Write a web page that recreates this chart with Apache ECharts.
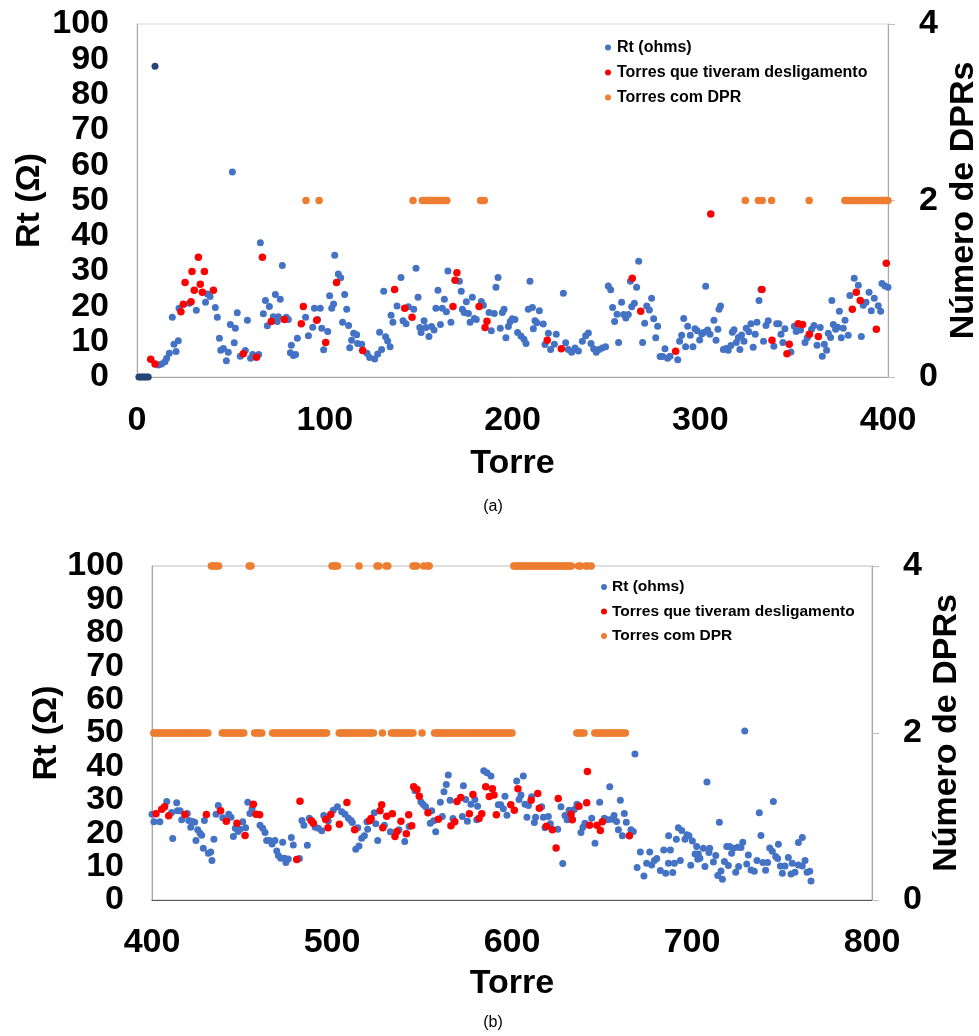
<!DOCTYPE html>
<html><head><meta charset="utf-8">
<script src="https://cdn.jsdelivr.net/npm/echarts@6/dist/echarts.min.js"></script>
<style>html,body{margin:0;padding:0;background:#fff}#c{width:979px;height:1036px}</style>
</head><body><div id="c"></div><script>
// ---------- DATA (a): towers 0-400 ----------
const rtDarkA = [[1,0],[2,0],[3,0],[4,0],[5,0],[6,0],[9.6,88]];
const rtA = [[11.4,3.4],[13.1,3.7],[14.9,4.3],[15.8,5.3],[17.2,6.7],[18.8,16.9],[19.7,9.3],[20.8,7.2],[22,10.3],[22.4,19.5],[27.9,20.9],[31.6,18.9],[36.5,21.2],[37.5,23.5],[38.9,22.8],[41.7,19.7],[42.8,16.9],[43.9,11],[44.6,7.6],[46,8.1],[47.6,4.6],[48.6,7],[49.7,14.9],[50.8,58.1],[51.8,9.7],[52.4,13.8],[53.4,18.2],[55,5.9],[57.7,7.5],[58.8,16.1],[60.5,5.3],[61.6,6.4],[64.8,6.4],[65.7,38],[67.3,17.9],[68.4,21.7],[69.4,14.5],[70.5,20],[72.6,17.1],[73.7,23.4],[74.7,15.7],[75.3,17.1],[76.3,22],[77.4,31.6],[79.5,16.9],[80.6,16.3],[81.7,6.9],[82.2,9],[83.3,6.1],[84.5,6.4],[85.4,11],[89.8,16.9],[91.3,11.7],[93.6,14.1],[94.5,19.5],[96.2,16.3],[97.6,19.5],[98.4,13.8],[99.4,7.7],
[101.6,12.9],[102.6,23.0],[103.7,19.5],[104.7,20.7],[105.3,34.5],[107.2,29.2],[108.5,28.1],[109.5,15.5],[110.6,23.4],[111.7,19.2],[112.7,14.6],[113.3,8.3],[114.3,10.4],[115.4,12.4],[117,12],[117.5,9.5],[119.7,9.3],[122.5,6.7],[123.9,5.5],[126.6,5.1],[128.2,6.5],[129.2,12.7],[130.3,7.8],[131.4,24.3],[132.4,11.4],[133.5,10.2],[134.8,8.6],[135.3,17.5],[136.3,15.5],[138.5,20.1],[140.6,28.2],[141.7,15.9],[143.3,15.1],[144.5,19.9],[147.4,19.2],[148.6,30.8],[149.7,22.6],[150.6,14.0],[151.3,12.6],[152.9,15.9],[153.9,14.0],[155.5,11.5],[156.9,14.3],[158.2,13.3],[159.2,19.5],[160.3,24.6],[161.6,14.9],[162.6,19.5],[163.7,22.0],[164.8,18.5],[165.6,30.0],[167.2,15.5],[171.7,27.1],[172.7,24.3],[173.3,19.2],[174.3,18.3],[175.4,21.3],[176.5,18.0],[177.4,15.5],[178.6,22.6],[179.7,16.6],[180.7,16.3],[183.4,21.4],[184.5,20.3],[187.5,18.3],[188.7,13.1],[190.3,18.0],[191.2,25.4],[192.3,28.2],[193.5,13.8],[194.6,18.3],[195.5,19.2],[196.5,11.1],[197.8,14.3],[198.8,15.7],[199.9,16.5],
[201.3,16.3],[202.7,12.6],[204.5,11.6],[206.1,10.7],[207.2,9.5],[208.4,19.2],[209.3,27.1],[210.6,19.7],[211.1,13.7],[212,15.9],[213,15.4],[214.3,18.8],[216.4,15.0],[217.3,9.2],[219.1,12.4],[220.3,7.8],[222.3,9.3],[223.3,12.1],[227.1,23.7],[228.3,9.7],[229.7,7.8],[231.5,7.0],[233.3,8.2],[235.1,7.4],[237.2,10.1],[239,11.7],[240.4,12.5],[241.8,9.5],[243.2,8.0],[244.6,7.0],[246.1,7.8],[247.8,8.2],[249.6,8.6],[251,25.8],[252.3,24.7],[253.3,19.7],[254.4,15.7],[255.7,17.8],[256.5,9.8],[258.1,21.2],[259.2,17.7],[260.4,16.7],[261.7,17.7],[262.8,27.1],[263.5,19.9],[264.9,20.9],[266.1,25.4],[267.2,32.8],[269.3,9.8],[270.4,15.2],[271.5,20.1],[272.9,19.0],[274.1,22.3],[275.2,16.5],[276.3,11.1],[277.3,14.4],[278.6,5.8],[280,5.8],[281.2,8.0],[282.6,5.3],[283.9,5.9],[288,4.9],[289,10.1],[290.1,11.8],[291.2,16.6],[292.2,8.6],[293.3,14.4],[294.7,11.8],[296.1,8.6],[297.2,13.7],[298.4,13.1],[299.7,10.5],[300.8,12.2],[301.8,12.6],[302.9,25.7],
[303.9,13.3],[305.2,12.1],[307.3,16.1],[308.4,10.4],[309.4,13.5],[310,19.2],[310.8,20.1],[312.3,7.8],[313.7,8.1],[314.9,7.6],[316.3,8.9],[317.1,12.7],[318,13.4],[319.2,9.8],[320.3,11.2],[321.1,7.8],[322,11.9],[323.3,10.1],[324.5,13.8],[325.9,12.8],[327,15.1],[328.2,8.4],[329.3,12.1],[330.2,15.5],[331.3,21.7],[332.3,24.8],[333.7,10.1],[335,14.6],[336.2,15.9],[339.2,8.7],[340.7,15.1],[341.9,15.1],[343,12.1],[344,9.8],[345.1,13.7],[348.3,7.1],[350.1,14.4],[351.1,12.9],[353.4,13.3],[355.8,9.8],[357,11.1],[359.3,13.5],[360.6,14.6],[362.2,9.0],[363.9,14.0],[365,5.9],[366.1,9.3],[367.3,7.6],[368.2,12.4],[369.4,11.2],[370.1,21.7],[370.9,14.9],[372.1,13.5],[373.2,14.1],[374.1,18.6],[375.1,11.1],[376.2,13.8],[377.1,16.1],[378.8,11.8],[379.7,23.1],[382,28.0],[384.2,26.0],[385.8,11.5],[386.8,20.3],[388.3,21.2],[389.9,24.0],[391.1,18.8],[392.7,22.3],[394.8,20.2],[396.1,18.6],[396.8,26.5],[398.4,25.8],[400,25.4]];
const tripA = [[7.3,5.0],[9.6,3.7],[23.4,18.5],[24.7,20.6],[25.6,26.8],[28.8,21.3],[29.3,29.9],[30.5,24.6],[32.7,33.9],[33.7,26.3],[34.8,24.0],[35.9,29.9],[40.7,24.6],[56.6,6.6],[63.6,5.6],[66.8,33.9],[71.5,15.7],[78.5,16.3],[87.5,15.1],[88.6,20.0],[95.7,16.1],[100.5,9.8],[106.3,26.8],[120.2,7.5],[137.2,24.8],[142.6,19.5],[146.5,16.9],[168.3,20.0],[169.4,27.4],[170.4,29.5],[182.2,20.0],[185.4,14.0],[186.4,15.8],[218.5,10.4],[226,8.0],[263.8,28.0],[268.3,18.6],[286.9,7.3],[305.6,46.2],[332.9,24.8],[338.2,10.4],[346.2,6.6],[347.4,9.3],[352.2,15.1],[354.5,14.9],[358.1,12.1],[362.9,11.5],[381,19.2],[383.1,24.0],[385.2,21.7],[393.8,13.5],[399.1,32.2]];
const dpr2TowersA = [90,97,147,152,153,155,156,157,158,159,160,161,162,163,164,165,183,184,185,324,331,333,338,358,377,378,379,380,381,382,383,384,385,386,387,388,389,390,391,392,393,394,395,396,397,398,399,400];

// ---------- DATA (b): towers 400-800 ----------
const rtB = [[400,25.7],[401.1,23.4],[404.4,23.4],[408.2,29.5],[410.9,26.2],[411.5,18.4],[413.7,29.1],[414.1,26.7],[415.6,26.7],[416.5,24],[419.6,25.9],[420.4,23.8],[421.5,21.8],[422.4,23.5],[423.7,23.3],[424.4,17.8],[425.4,21],[426.7,20],[427.6,19.4],[428.5,15.5],[429.1,23.8],[431.3,14],[432.6,14.4],[433.3,11.8],[434.4,18.2],[435.6,25.7],[436.8,28.3],[439.3,24.6],[442.6,25.7],[443.9,24.8],[445.2,19],[446.3,21.5],[447.8,20.5],[448.9,21.2],[450.4,23.4],[452,21.6],[453.2,29.3],[454.4,25.9],[455.6,27.4],[460,22.4],[461.5,21.5],[462.8,20.2],[463.7,17.8],[465.2,17.8],[466.7,16.8],[468.3,17.8],[469.3,14.7],[470.2,13.3],[471.5,12.5],[472.6,17.3],[473.5,12.5],[474.4,11.2],[475.7,12.3],[477.4,18.7],[478.5,16.5],[481.9,12.4],[483.3,23.8],[484.4,22.4],[486.3,16.4],[487.4,24.5],[490.7,21.8],[492.4,21.5],[494.3,20.7],[495.4,25.3],[497.9,23.7],[500.7,26.9],[503,27.9],
[505.4,26.4],[507.2,25.7],[509.1,24.5],[510.6,23.8],[511.3,23.2],[513.2,15.2],[514.3,21.6],[515,16.2],[516.5,18.5],[518,19.2],[519.4,23.4],[519.8,21.2],[523.5,26.1],[524.3,22.8],[525.4,17.8],[529.1,22.4],[532.4,20.4],[537.2,21],[540.4,17.5],[542.8,22],[546.1,32.7],[549.4,29.4],[550.7,28.6],[552,27.9],[554.6,23],[555.4,26.7],[556.5,23.7],[557.6,20.4],[560.2,29.3],[561.3,25],[562.2,32.4],[563.5,34.6],[564.6,37.4],[565.6,29.9],[567.2,24.4],[572.4,25],[573,34.2],[574.3,30.1],[575.2,23.6],[577.2,28.7],[579.4,30.1],[580.4,24],[580.9,28.1],[584.3,38.7],[586.1,38.1],[588.3,37.1],[592.4,28.5],[593.7,28.5],[595.2,27.3],[596.1,31.1],[597.2,25.4],[602.6,35.6],
[603.9,30.1],[605,31.4],[606.3,37.1],[607.2,28.7],[608.3,24.8],[609.1,28.3],[610.9,30.9],[612.4,23.2],[613.1,24.8],[616.5,27.9],[617.4,24.8],[618.3,21.6],[620.2,25],[621.3,22.8],[625.4,21.2],[627.2,27.9],[628.2,10.9],[629.4,25.3],[630.6,24],[631.7,26.9],[634.6,27.1],[636.1,28.7],[638.3,20.2],[639.4,21.8],[640.5,23],[644.3,24.5],[646.1,17],[648.7,29.3],[651.3,24.5],[653.1,24],[654.3,33.9],[655.4,24.2],[656.7,25.3],[658.1,23.5],[659.1,21],[660.2,29.9],[661.3,19.2],[662.4,25.9],[663.5,23.3],[666.1,21],[667.4,20.5],[668.3,43.7],[669.5,9.7],[671.3,14.4],[673.3,7.2],[674.8,11],[676.5,14.4],[677.6,10.5],[679.1,11.8],[680.4,12.4],[682.4,8.8],[684.3,15],[685.4,8],[686.9,11],[687,19.2],[688,15],[689.3,8.2],[690.2,11],[691.3,18.2],[692.4,21.6],[693.5,11.8],[694.3,20.8],[696.1,18.2],[697.2,19.5],[698.3,19.2],[699.3,10.4],[700.2,17.7],[701.7,13.8],[702.6,16],
[703.2,12.2],[703.5,13.8],[704.4,12.5],[706.3,15.5],[707.2,10],[708.3,35.3],[709.4,14.2],[709.8,15.5],[711.9,11.4],[713.2,13.3],[714.3,7.3],[715.2,23.3],[716.1,8.7],[716.9,6.2],[718,11.5],[719.3,16],[720.2,10.3],[720.9,16],[722,14],[723,15.5],[724.3,8.3],[725.4,15.8],[725.9,10],[727.2,15.7],[728.2,17.3],[729.3,50.6],[730.4,10.8],[731.3,13.5],[732.8,9],[734.6,8.6],[736.1,11.8],[737.4,26.1],[738.3,19.3],[739.4,11.2],[740.9,8.9],[742,11.2],[743.2,15.6],[744.6,14.6],[745.2,29.5],[746.5,13],[747.6,12.4],[748,16.7],[749.1,10.2],[750.2,8],[751.7,10.2],[753.5,12.7],[755,7.8],[755.7,11],[757.2,8.3],[759.1,17.2],[759.1,10.5],[761.3,18.7],[761.3,10.2],[762.8,11.8],[763.9,8.3],[765.4,8.6],[766.1,5.7]];
const tripB = [[402.2,25.8],[405.4,27.2],[407,27.9],[409.3,25.2],[418.3,25.6],[430.2,25.6],[438.1,26.7],[441.3,23.6],[447.2,23],[451.7,19.3],[456.3,28.7],[457.8,25.7],[459.8,25.5],[480.4,12.1],[482.2,29.6],[488.5,23.7],[489.6,23],[496.5,24.1],[497.8,21.6],[499.3,25.6],[504.1,22.7],[508.3,29.2],[512.6,21],[520.9,23.7],[521.7,24.4],[526.7,26.7],[527.6,28.5],[528.2,21.6],[530.4,25.1],[533.5,25.8],[535,19],[536.1,20.5],[538.3,23.6],[541.3,19.8],[542.6,25.5],[544.3,22.2],[545.4,33.9],[547.2,33.1],[548.5,31.1],[553.3,26.1],[559.1,24.2],[566.1,22.2],[568.2,23.4],[569.4,29.5],[571.5,30.7],[576.3,25.8],[578.3,31.6],[581.7,24.4],[583.2,25.8],[585.4,33.9],[587.4,31],[589.1,33.3],[590,31.4],[591.3,25.5],[599.3,28.5],[601.3,26.9],[603.3,33.3],[610.6,29.9],[614.3,31.9],[615.2,27.5],[619.1,22.1],[622.4,21],[624.5,15.6],[625.7,30.4],[632.8,25.7],[633.5,24],[637.2,28.1],[641.5,29.1],[641.9,38.5],[643.1,22.4],[647.2,22.4],[649.1,20.8],[650.2,23.4],[665.2,19.2]];
const dpr2TowersB = [401,402,403,404,405,406,407,408,409,410,411,412,413,414,415,416,417,418,419,420,421,422,423,424,425,426,427,428,429,430,431,439,440,441,442,443,444,445,446,447,448,449,450,451,457,458,459,460,461,467,468,469,470,471,472,473,474,475,476,477,478,479,480,481,482,483,484,485,486,487,488,489,490,491,492,493,494,495,496,497,504,505,506,507,508,509,510,511,512,513,514,515,516,517,518,519,520,521,522,523,528,533,534,535,536,537,538,539,540,541,542,543,544,545,550,557,558,559,560,561,562,563,564,565,566,567,568,569,570,571,572,573,574,575,576,577,578,579,580,581,582,583,584,585,586,587,588,589,590,591,592,593,594,595,596,597,598,599,600,636,637,638,639,640,646,647,648,649,650,651,652,653,654,655,656,657,658,659,660,661,662,663];
const dpr4TowersB = [433,434,435,436,437,454,455,500,501,502,503,515,525,526,530,531,545,546,547,551,553,554,601,602,603,604,605,606,607,608,609,610,611,612,613,614,615,616,617,618,619,620,621,622,623,624,625,626,627,628,629,630,631,632,633,637,638,641,642,644];

const xTicksA = [0, 400, 100];   // min, max, step
const xTicksB = [400, 800, 100];
const rtTicks = [0, 100, 10];
const rtTickLabelsEven = [0, 20, 40, 60, 80, 100];
const rtTickLabelsOdd = [10, 30, 50, 70, 90];
const dprTicks = [0, 4, 2];
const names = ['Rt (ohms)', 'Torres que tiveram desligamento', 'Torres com DPR'];

// ---------- CHART ----------
const FONT = 'Arial, "Liberation Sans", sans-serif';
const C_BLUE = '#4472C4', C_RED = '#FF0000', C_ORANGE = '#ED7D31', C_NAVY = '#264478';
const big = {fontFamily: FONT, fontWeight: 'bold', fontSize: 34, color: '#000'};

function lab(margin) {
  return Object.assign({margin: margin, showMinLabel: true, showMaxLabel: true, hideOverlap: false}, big);
}
function xAxis(grid, t, gap, margin) {
  return {gridIndex: grid, type: 'value', min: t[0], max: t[1], interval: t[2],
    axisLine: {show: true, onZero: false, lineStyle: {color: '#A6A6A6', width: 1}},
    axisTick: {show: false}, splitLine: {show: false},
    axisLabel: lab(margin),
    name: 'Torre', nameLocation: 'middle', nameGap: gap, nameMoveOverlap: false,
    nameTextStyle: Object.assign({}, big)};
}
function yLeft(grid, gap, custom) {
  const l = lab(28);
  if (custom) l.customValues = custom;
  return {gridIndex: grid, type: 'value', min: rtTicks[0], max: rtTicks[1], interval: rtTicks[2],
    axisLine: {show: true, lineStyle: {color: '#A6A6A6'}}, axisTick: {show: false},
    splitLine: {show: false}, axisLabel: l,
    name: 'Rt (\u03A9)', nameLocation: 'middle', nameGap: gap, nameMoveOverlap: false,
    nameTextStyle: Object.assign({}, big)};
}
function yLeftExtra(grid, custom) {
  const l = lab(28);
  l.customValues = custom;
  return {gridIndex: grid, type: 'value', position: 'left', offset: 0, min: rtTicks[0], max: rtTicks[1], interval: rtTicks[2],
    axisLine: {show: false}, axisTick: {show: false}, splitLine: {show: false}, axisLabel: l};
}
function yRight(grid, gap) {
  return {gridIndex: grid, type: 'value', position: 'right', min: dprTicks[0], max: dprTicks[1], interval: dprTicks[2],
    axisLine: {show: true, lineStyle: {color: '#A6A6A6'}},
    axisTick: {show: true, length: 7, lineStyle: {color: '#BFBFBF'}},
    splitLine: {show: false}, axisLabel: lab(31),
    name: 'N\u00famero de DPRs', nameLocation: 'middle', nameGap: gap, nameMoveOverlap: false,
    nameTextStyle: Object.assign({}, big)};
}
function sc(name, data, xi, yi, color, size) {
  return {name: name, type: 'scatter', xAxisIndex: xi, yAxisIndex: yi, data: data,
    symbolSize: size, itemStyle: {color: color, opacity: 1}, silent: true, animation: false};
}

const chart = echarts.init(document.getElementById('c'));
chart.setOption({
  animation: false,
  backgroundColor: '#fff',
  grid: [
    {left: 137, right: 91, top: 24, height: 353, show: true, borderColor: '#D9D9D9', borderWidth: 1,
      containLabel: false, outerBoundsMode: 'none'},
    {left: 152, right: 107, top: 566, height: 334, show: true, borderColor: '#BFBFBF', borderWidth: 1,
      containLabel: false, outerBoundsMode: 'none'}
  ],
  xAxis: [
    xAxis(0, xTicksA, 70, 27),
    xAxis(1, xTicksB, 67, 26),
    {gridIndex: 1, type: 'value', position: 'top', min: xTicksB[0], max: xTicksB[1], interval: xTicksB[2],
      axisLine: {show: true, lineStyle: {color: '#595959'}}, axisTick: {show: false},
      axisLabel: {show: false}, splitLine: {show: false}}
  ],
  yAxis: [yLeft(0, 90), yRight(0, 59), yLeft(1, 88, rtTickLabelsEven), yRight(1, 58), yLeftExtra(1, rtTickLabelsOdd)],
  legend: [
    {data: names, orient: 'vertical', left: 605, top: 39.5, padding: 0, itemGap: 9,
      itemWidth: 8, itemHeight: 6, icon: 'circle', selectedMode: false,
      textStyle: {fontFamily: FONT, fontWeight: 'bold', fontSize: 16, lineHeight: 16, color: '#000'}},
    {data: names, orient: 'vertical', left: 601, top: 579, padding: 0, itemGap: 8.5,
      itemWidth: 6, itemHeight: 6, icon: 'circle', selectedMode: false,
      textStyle: {fontFamily: FONT, fontWeight: 'bold', fontSize: 15.5, lineHeight: 16, color: '#000'}}
  ],
  graphic: [
    {type: 'text', x: 493, y: 507, style: {text: '(a)', font: '16px ' + FONT, fill: '#000', align: 'center', verticalAlign: 'middle'}},
    {type: 'text', x: 493, y: 1023, style: {text: '(b)', font: '16px ' + FONT, fill: '#000', align: 'center', verticalAlign: 'middle'}}
  ],
  series: [
    sc(names[0], rtA, 0, 0, C_BLUE, 7),
    sc('Rt (ohms) - 0', rtDarkA, 0, 0, C_NAVY, 7),
    sc(names[1], tripA, 0, 0, C_RED, 7.5),
    sc(names[2], dpr2TowersA.map(t => [t, 2]), 0, 1, C_ORANGE, 7.5),
    sc(names[0], rtB, 1, 2, C_BLUE, 7),
    sc(names[1], tripB, 1, 2, C_RED, 7.5),
    sc(names[2], dpr2TowersB.map(t => [t, 2]).concat(dpr4TowersB.map(t => [t, 4])), 1, 3, C_ORANGE, 7.5)
  ]
});
</script></body></html>
